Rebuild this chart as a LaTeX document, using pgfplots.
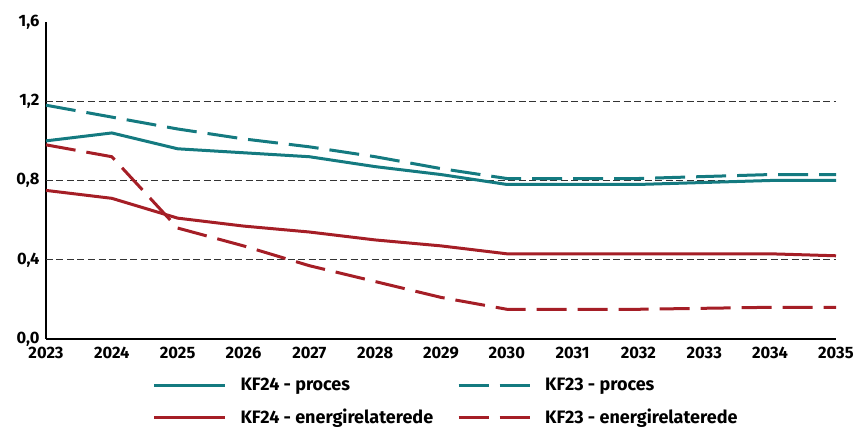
\documentclass[border=0pt]{standalone}
\usepackage{pgfplots}
\pgfplotsset{compat=1.18}
\usepackage{fontspec}
\setmainfont{Fira Sans}
\definecolor{kfteal}{RGB}{20,122,128}
\definecolor{kfred}{RGB}{165,30,38}
\begin{document}
\begin{tikzpicture}
\begin{axis}[
  scale only axis,
  width=790pt, height=317pt,
  xmin=2023, xmax=2035,
  ymin=0, ymax=1.6,
  axis lines=left,
  axis line style={-, line width=1.8pt, black},
  xtick={2023,2024,...,2035},
  ytick={0,0.4,0.8,1.2,1.6},
  extra y ticks={0.4,0.8,1.2},
  extra y tick style={grid=major, yticklabels={}},
  grid style={black!80, line width=0.8pt, dash pattern=on 7pt off 3.5pt},
  major tick length=0pt,
  ticklabel style={font=\fontsize{16.5}{19}\selectfont\bfseries},
  xticklabel style={/pgf/number format/1000 sep={}},
  yticklabel style={/pgf/number format/.cd, fixed, fixed zerofill, precision=1, use comma},
  /pgf/number format/assume math mode=true,
  xticklabel shift=5pt,
  yticklabel shift=3pt,
  clip=false,
  legend columns=2,
  legend style={draw=none, fill=none, at={(axis description cs:0.5,0)}, anchor=north, xshift=5pt, yshift=-35pt,
    font=\fontsize{18}{21}\selectfont\bfseries, row sep=13pt,
    /tikz/every odd column/.append style={column sep=12pt},
    /tikz/every even column/.append style={column sep=22pt}},
  legend cell align=left,
  legend image code/.code={\draw[#1] (0pt,0pt) -- (71pt,0pt);},
  every axis plot/.append style={line width=3pt},
]
\addplot[kfteal] coordinates {(2023,1.00) (2024,1.04) (2025,0.96) (2026,0.94) (2027,0.92) (2028,0.87) (2029,0.83) (2030,0.78) (2031,0.78) (2032,0.78) (2033,0.79) (2034,0.80) (2035,0.80)};
\addlegendentry{KF24 - proces}
\addplot[kfteal, dash pattern=on 30pt off 11pt] coordinates {(2023,1.18) (2024,1.12) (2025,1.06) (2026,1.01) (2027,0.97) (2028,0.92) (2029,0.86) (2030,0.81) (2031,0.81) (2032,0.81) (2033,0.82) (2034,0.83) (2035,0.83)};
\addlegendentry{KF23 - proces}
\addplot[kfred] coordinates {(2023,0.75) (2024,0.71) (2025,0.61) (2026,0.57) (2027,0.54) (2028,0.50) (2029,0.47) (2030,0.43) (2031,0.43) (2032,0.43) (2033,0.43) (2034,0.43) (2035,0.42)};
\addlegendentry{KF24 - energirelaterede}
\addplot[kfred, dash pattern=on 30pt off 11pt] coordinates {(2023,0.98) (2024,0.92) (2025,0.56) (2026,0.47) (2027,0.37) (2028,0.29) (2029,0.21) (2030,0.15) (2031,0.15) (2032,0.15) (2033,0.155) (2034,0.16) (2035,0.16)};
\addlegendentry{KF23 - energirelaterede}
\end{axis}
\path ([xshift=-46pt,yshift=-91pt]current axis.south west) rectangle ++(858pt,430pt);
\end{tikzpicture}
\end{document}
